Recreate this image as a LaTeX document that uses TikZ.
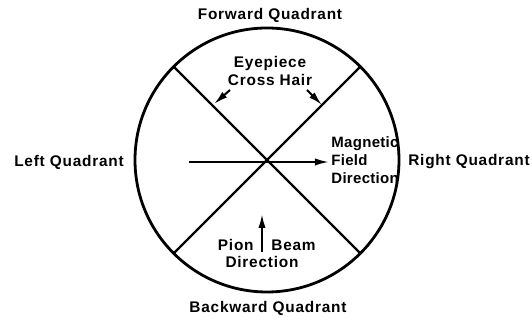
\documentclass[tikz,border=0pt]{standalone}
\usepackage{fontspec}
\setmainfont{Liberation Sans}[LetterSpace=5]
\usetikzlibrary{arrows.meta}

\begin{document}
\begin{tikzpicture}[x=0.5pt, y=0.5pt, >={Latex[length=7pt,width=3.6pt]},
  lbl/.style={font=\bfseries\fontsize{7.7}{9}\selectfont, inner sep=1pt},
  tight/.style={font=\bfseries\fontsize{7.5}{9}\selectfont\addfontfeature{LetterSpace=2}},
  rim/.style={line width=1.4pt},
  hair/.style={line width=1.2pt},
  pointer/.style={->, line width=1pt}]

\useasboundingbox (0,0) rectangle (532,320);

% Define the circle and the cross hair
\coordinate (C) at (267,160);
\draw[rim] (C) circle (66pt);
\path (C) ++(45:66pt) coordinate (NE);
\path (C) ++(135:66pt) coordinate (NW);
\path (C) ++(225:66pt) coordinate (SW);
\path (C) ++(315:66pt) coordinate (SE);
\draw[hair] (NW) -- (SE);
\draw[hair] (NE) -- (SW);

% Define the quadrant labels
\node[lbl] (FQ) at (270,305) {Forward Quadrant};
\node[lbl] (BQ) at (268,12) {Backward Quadrant};
\node[lbl] (LQ) at (69,158) {Left Quadrant};
\node[lbl] (RQ) at (469,158) {Right Quadrant};

% Define the inner labels
\node[lbl, align=center] (EH) at (270,249) {Eyepiece\\Cross Hair};
\node[lbl, tight, align=left, anchor=west] (MF) at (329,160) {Magnetic\\Field\\Direction};
\node[lbl, anchor=east] (PI) at (256,75) {Pion};
\node[lbl, anchor=west] (BE) at (269,75) {Beam};
\node[lbl] (DI) at (262,58) {Direction};

% Draw the arrows
\coordinate (FS) at (189,158);
\coordinate (LS) at (230,230);
\coordinate (LT) at (214,216);
\coordinate (RS) at (307,230);
\coordinate (RT) at (322,215);
\coordinate (BS) at (262,68);
\coordinate (BT) at (262,106);
\draw[pointer] (FS) -- (MF.west |- FS);
\draw[pointer] (LS) -- (LT);
\draw[pointer] (RS) -- (RT);
\draw[pointer] (BS) -- (BT);

\end{tikzpicture}
\end{document}
